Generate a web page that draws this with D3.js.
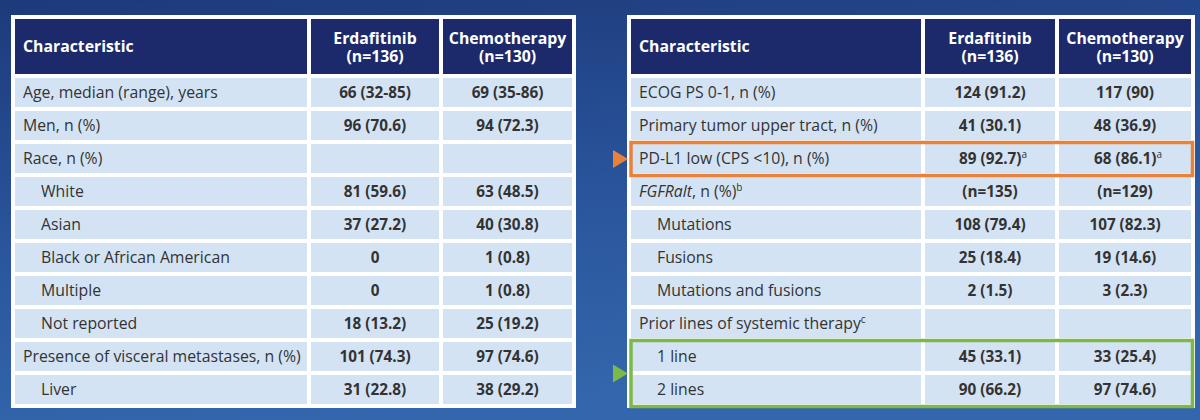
<!DOCTYPE html>
<html><head><meta charset="utf-8">
<script src="https://cdn.jsdelivr.net/npm/d3@7/dist/d3.min.js"></script>
<style>
html,body{margin:0;padding:0;background:#24478c;}
svg{display:block;font-family:"Open Sans",sans-serif;}
</style></head>
<body><svg id="c" width="1200" height="420"></svg>
<script>
// ---- data ----
const headers = ["Characteristic", "Erdafitinib|(n=136)", "Chemotherapy|(n=130)"];
const leftLabels = ["Age, median (range), years","Men, n (%)","Race, n (%)","White","Asian","Black or African American","Multiple","Not reported","Presence of visceral metastases, n (%)","Liver"];
const leftIndent = [0,0,0,1,1,1,1,1,0,1];
const leftErda = ["66 (32-85)","96 (70.6)","","81 (59.6)","37 (27.2)","0","0","18 (13.2)","101 (74.3)","31 (22.8)"];
const leftChemo = ["69 (35-86)","94 (72.3)","","63 (48.5)","40 (30.8)","1 (0.8)","1 (0.8)","25 (19.2)","97 (74.6)","38 (29.2)"];

const rightLabels = ["ECOG PS 0-1, n (%)","Primary tumor upper tract, n (%)","PD-L1 low (CPS <10), n (%)","FGFRalt|, n (%)","Mutations","Fusions","Mutations and fusions","Prior lines of systemic therapy","1 line","2 lines"];
const rightLabelSup = ["","","","b","","","","c","",""];
const rightIndent = [0,0,0,0,1,1,1,0,1,1];
const rightErda = ["124 (91.2)","41 (30.1)","89 (92.7)","(n=135)","108 (79.4)","25 (18.4)","2 (1.5)","","45 (33.1)","90 (66.2)"];
const rightChemo = ["117 (90)","48 (36.9)","68 (86.1)","(n=129)","107 (82.3)","19 (14.6)","3 (2.3)","","33 (25.4)","97 (74.6)"];
const rightValSup = ["","","a","","","","","","",""];
const highlights = [{rows:[2,2], color:"#e8823a"}, {rows:[8,9], color:"#7cb84a"}];

// ---- drawing ----
const svg = d3.select("#c");
const defs = svg.append("defs");
const g = defs.append("linearGradient").attr("id","bg").attr("x1","0").attr("y1","0").attr("x2","0.25").attr("y2","1");
g.append("stop").attr("offset","0").attr("stop-color","#1d3a7b");
g.append("stop").attr("offset","0.55").attr("stop-color","#2a559c");
g.append("stop").attr("offset","1").attr("stop-color","#3366ac");
svg.append("rect").attr("width",1200).attr("height",420).attr("fill","url(#bg)");

const y = d3.scaleBand().domain(d3.range(10)).range([76,406]).paddingInner(4/33).paddingOuter(2/33);
const headTop = 19, headH = 55;
const textCol = "#333333", headFill = "#1c2a6b", cellFill = "#d4e3f4";
const labelSize = "15.8px", valSize = "15.3px";

function drawTable(x0, cols, labels, indent, erda, chemo, labelSup, valSup) {
  const t = svg.append("g");
  t.append("rect").attr("x", x0).attr("y", 15).attr("width", cols[2][1]+4-x0).attr("height", 408-15).attr("fill","#ffffff");
  // header
  cols.forEach((c,i)=>{
    t.append("rect").attr("x",c[0]).attr("y",headTop).attr("width",c[1]-c[0]).attr("height",headH).attr("fill",headFill);
    const parts = headers[i].split("|");
    if (i===0) {
      t.append("text").attr("fill","#fff").attr("font-weight","bold").attr("font-size","15.8px")
        .attr("x", c[0]+8).attr("y", headTop+headH/2+5.5).text(parts[0]);
    } else {
      parts.forEach((p,k)=>t.append("text").attr("fill","#fff").attr("font-weight","bold").attr("font-size","15.8px")
        .attr("text-anchor","middle").attr("x",(c[0]+c[1])/2).attr("y",headTop+25+k*17.5).text(p));
    }
  });
  labels.forEach((lab,r)=>{
    cols.forEach(c=>{
      t.append("rect").attr("x",c[0]).attr("y",y(r)).attr("width",c[1]-c[0]).attr("height",y.bandwidth()).attr("fill",cellFill);
    });
    const by = y(r)+y.bandwidth()/2+5.5;
    const lt = t.append("text").attr("x", cols[0][0]+8+(indent[r]?18:0)).attr("y",by).attr("fill",textCol).attr("font-size",labelSize);
    const lp = lab.split("|");
    if (lp.length>1) {
      lt.append("tspan").attr("font-style","italic").text(lp[0]);
      lt.append("tspan").text(lp[1]);
    } else lt.append("tspan").text(lab);
    if (labelSup && labelSup[r]) lt.append("tspan").attr("font-size","10px").attr("dy",-6).text(labelSup[r]);
    [erda[r], chemo[r]].forEach((v,k)=>{
      if (!v) return;
      const c = cols[k+1];
      const vt = t.append("text").attr("x",(c[0]+c[1])/2 + (valSup && valSup[r] ? 3 : 0)).attr("y",by).attr("text-anchor","middle").attr("fill",textCol).attr("font-weight","bold").attr("font-size",valSize);
      vt.append("tspan").text(v);
      if (valSup && valSup[r]) vt.append("tspan").attr("font-size","10px").attr("font-weight","normal").attr("dy",-6).text(valSup[r]);
    });
  });
  return t;
}

const leftCols = [[15,307],[311,439],[443,572]];
const rightCols = [[631,921],[925,1055],[1059,1191]];
drawTable(11, leftCols, leftLabels, leftIndent, leftErda, leftChemo, null, null);
drawTable(627, rightCols, rightLabels, rightIndent, rightErda, rightChemo, rightLabelSup, rightValSup);

highlights.forEach(h=>{
  const top = y(h.rows[0]) - 1.5, bot = y(h.rows[1]) + y.bandwidth() + 2.5;
  svg.append("rect").attr("x",631).attr("y",top).attr("width",1192.5-631).attr("height",bot-top)
    .attr("fill","none").attr("stroke",h.color).attr("stroke-width",3.5);
  const cy = (top+bot)/2;
  svg.append("path").attr("d",`M613,${cy-9}L628,${cy}L613,${cy+9}Z`).attr("fill",h.color);
});
</script></body></html>
